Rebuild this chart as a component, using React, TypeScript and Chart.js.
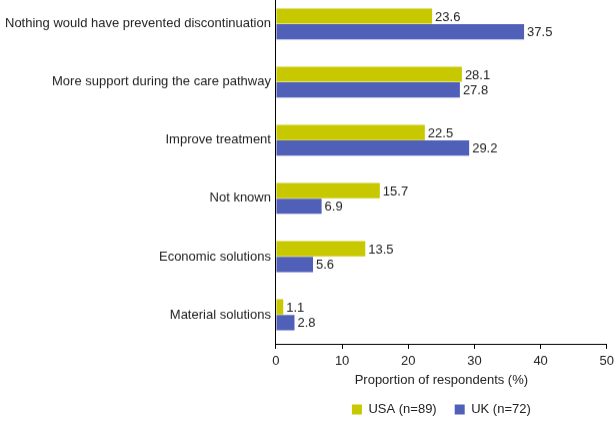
import React, { useEffect, useRef } from "react";
import { Chart, registerables } from "chart.js";

Chart.register(...registerables);

const categories = [
  "Nothing would have prevented discontinuation",
  "More support during the care pathway",
  "Improve treatment",
  "Not known",
  "Economic solutions",
  "Material solutions",
];
const usaValues = [23.6, 28.1, 22.5, 15.7, 13.5, 1.1];
const ukValues = [37.5, 27.8, 29.2, 6.9, 5.6, 2.8];
const seriesNames = ["USA (n=89)", "UK (n=72)"];
const xTicks = [0, 10, 20, 30, 40, 50];

const FONT = "'Liberation Sans', Arial, sans-serif";
const FS = 13;
const W = 615;
const H = 421;
const RIGHT_EXTRA = 4;
const BOTTOM_EXTRA = 5;
const TOP_CLIP = 5;

const valueLabels = {
  id: "valueLabels",
  afterDatasetsDraw(chart: any) {
    const ctx = chart.ctx;
    ctx.save();
    ctx.font = `${FS}px ${FONT}`;
    ctx.fillStyle = "#222";
    ctx.textAlign = "left";
    ctx.textBaseline = "middle";
    chart.data.datasets.forEach((ds: any, i: number) => {
      const meta = chart.getDatasetMeta(i);
      meta.data.forEach((bar: any, j: number) => {
        ctx.fillText(ds.data[j].toFixed(1), bar.x + 3, bar.y + 1);
      });
    });
    ctx.restore();
  },
};

function makeConfig(): any {
  return {
    type: "bar",
    data: {
      labels: categories,
      datasets: [
        {
          label: seriesNames[0],
          data: usaValues,
          backgroundColor: "#c8c800",
          borderWidth: 0,
          barPercentage: 0.97,
          categoryPercentage: 0.54,
        },
        {
          label: seriesNames[1],
          data: ukValues,
          backgroundColor: "#5060b8",
          borderWidth: 0,
          barPercentage: 0.97,
          categoryPercentage: 0.54,
        },
      ],
    },
    options: {
      indexAxis: "y",
      animation: false,
      responsive: false,
      maintainAspectRatio: false,
      layout: { padding: { top: 0, right: 2, left: 0, bottom: 0 } },
      plugins: {
        legend: {
          position: "bottom",
          fullSize: false,
          labels: {
            boxWidth: 10,
            boxHeight: 10,
            color: "#222",
            font: { family: FONT, size: FS },
            padding: 18,
          },
        },
        tooltip: { enabled: false },
      },
      scales: {
        x: {
          min: 0,
          max: 50,
          afterBuildTicks: (axis: any) => {
            axis.ticks = xTicks.map((v) => ({ value: v }));
          },
          afterFit: (axis: any) => {
            axis.height = 41;
          },
          grid: {
            drawOnChartArea: false,
            drawTicks: true,
            tickLength: 5,
            color: "#000",
          },
          border: { display: true, color: "#000", width: 1 },
          ticks: {
            color: "#222",
            font: { family: FONT, size: FS },
            padding: 5,
            maxRotation: 0,
          },
          title: {
            display: true,
            text: "Proportion of respondents (%)",
            color: "#222",
            font: { family: FONT, size: FS },
            padding: { top: 0, bottom: -3 },
          },
        },
        y: {
          grid: { display: false, drawTicks: false },
          border: { display: true, color: "#000", width: 1 },
          ticks: {
            color: "#222",
            font: { family: FONT, size: FS },
            padding: 5,
            autoSkip: false,
          },
        },
      },
    },
    plugins: [valueLabels],
  };
}

export default function App() {
  const ref = useRef<HTMLCanvasElement>(null);
  useEffect(() => {
    const canvas = ref.current!;
    const cw = W + RIGHT_EXTRA;
    const setSize = (top: number, h: number) => {
      canvas.width = cw;
      canvas.height = h;
      canvas.style.width = cw + "px";
      canvas.style.height = h + "px";
      canvas.style.top = -top + "px";
    };
    setSize(0, H + BOTTOM_EXTRA);
    const probe = new Chart(canvas, makeConfig());
    const shift = probe.chartArea.top + TOP_CLIP;
    probe.destroy();
    setSize(shift, H + BOTTOM_EXTRA + shift);
    const chart = new Chart(canvas, makeConfig());
    return () => chart.destroy();
  }, []);
  return (
    <div
      style={{
        position: "absolute",
        left: 0,
        top: 0,
        width: W,
        height: H,
        overflow: "hidden",
      }}
    >
      <canvas ref={ref} style={{ position: "absolute", left: 0, top: 0 }} />
    </div>
  );
}
